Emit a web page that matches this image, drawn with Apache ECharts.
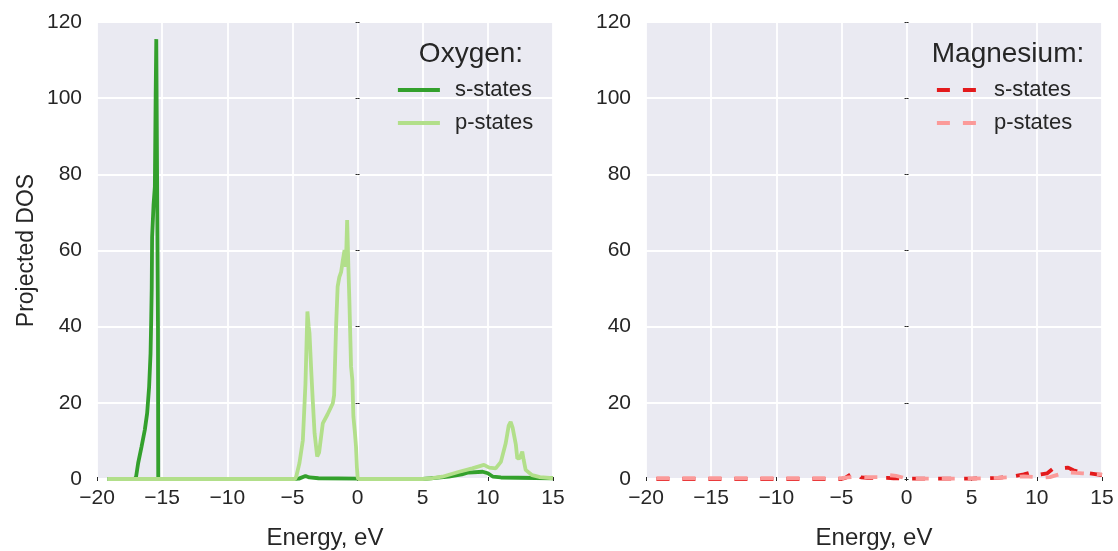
<!DOCTYPE html>
<html><head><meta charset="utf-8">
<script src="https://cdn.jsdelivr.net/npm/echarts@6/dist/echarts.min.js"></script>
<style>html,body{margin:0;padding:0;background:#fff}#c{width:1118px;height:551px}</style>
</head><body><div id="c"></div>
<script>
// Data: [energy (eV), projected DOS]
const oxygenS = [[-19.2,0],[-17.1,0],[-17.0,0.6],[-16.84,4.2],[-16.58,8.5],[-16.33,12.9],[-16.15,17.3],[-16.0,24.2],[-15.89,33],[-15.84,41.7],[-15.8,50],[-15.77,63.6],[-15.72,64],[-15.66,72],[-15.56,76.7],[-15.5,100],[-15.45,115.5],[-15.36,115],[-15.32,40],[-15.3,0],[-15.2,0],[-5,0],[-4.5,0.1],[-4.0,0.8],[-3.7,0.4],[-3,0.2],[0,0.1],[0.1,0],[5,0],[6,0.3],[7,0.6],[8,1.2],[8.5,1.7],[9.6,1.9],[10,1.5],[10.4,0.6],[11,0.4],[15,0.2]];
const oxygenP = [[-19.2,0],[-4.8,0],[-4.71,0.6],[-4.46,4.2],[-4.2,10.2],[-4.0,25],[-3.85,44],[-3.75,40],[-3.69,38.3],[-3.55,28],[-3.44,20.7],[-3.3,12],[-3.1,5.9],[-2.95,7],[-2.67,14.6],[-2.3,17],[-1.9,19.9],[-1.8,22],[-1.65,40],[-1.53,50.5],[-1.4,53],[-1.26,54.4],[-1.15,57],[-1.0,60.1],[-0.9,55.7],[-0.8,68],[-0.7,55],[-0.63,47],[-0.5,29.5],[-0.4,26],[-0.32,16.4],[-0.2,12],[-0.12,8.5],[-0.05,3],[0,0.6],[0.05,0],[5,0],[5.75,0.2],[6.5,0.6],[7.8,1.9],[8.8,2.8],[9.7,3.7],[10.1,3],[10.6,2.8],[11.0,4.5],[11.37,9.4],[11.6,14],[11.75,15],[11.9,13.5],[12.0,13.7],[12.15,9],[12.26,5.4],[12.45,5.5],[12.64,7.2],[12.75,5],[12.9,2.4],[13.4,1.0],[14,0.5],[15,0.2]];
const magnesiumS = [[-19.2,0],[-5,0],[-4.7,0.3],[-4.3,1.2],[-4.0,1.9],[-3.8,1.5],[-3.5,0.4],[-3,0.3],[-2,0.3],[-1.5,0.3],[-1,0.2],[0,0.1],[5,0.1],[7,0.3],[8,0.6],[9,1.2],[9.8,2.0],[10.3,1.2],[10.8,1.5],[11.2,2.6],[11.6,3.0],[12.0,2.9],[12.4,3.0],[12.8,2.3],[13.3,1.8],[14,1.5],[15,1.0]];
const magnesiumP = [[-19.2,0.2],[-5,0.2],[-4.5,0.4],[-4,0.6],[-3,0.5],[-2,0.5],[-1.3,1.0],[-0.8,0.8],[-0.3,0.4],[0,0.1],[5,0.1],[7,0.3],[8,0.5],[9,0.7],[10,0.5],[10.5,0.4],[11,0.5],[11.5,1.0],[12.3,1.8],[13,1.6],[13.5,1.5],[14.5,1.3],[15,1.2]];
const seriesNames = ['s-states','p-states'];
const panelTitles = ['Oxygen:','Magnesium:'];
const xLabel = 'Energy, eV';
const yLabel = 'Projected DOS';

const FONT = '"Liberation Sans", Arial, sans-serif';
const TXT = '#262626';
const grids = [
  {left:97, top:22, width:456, height:457},
  {left:646, top:22, width:456, height:457}
];
function xAx(g, pos, main){
  return {type:'value', gridIndex:g, position:pos, min:-20, max:15, interval:5,
    axisLine:{show:false}, axisTick:{show:true, length:2, lineStyle:{color:TXT,width:1}},
    axisLabel:{show:main, color:TXT, fontSize:21, fontFamily:FONT, margin:9,
      formatter:v=>String(v).replace('-','\u2212')},
    splitLine:{show:main, lineStyle:{color:'#fff', width:1.8}},
    name: main ? xLabel : '', nameLocation:'middle', nameGap:47,
    nameTextStyle:{color:TXT, fontSize:24, fontFamily:FONT}};
}
function yAx(g, pos, main, named){
  return {type:'value', gridIndex:g, position:pos, min:0, max:120, interval:20,
    axisLine:{show:false}, axisTick:{show:true, length:2, lineStyle:{color:TXT,width:1}},
    axisLabel:{show:main, color:TXT, fontSize:21, fontFamily:FONT, margin:15},
    splitLine:{show:main, lineStyle:{color:'#fff', width:1.8}},
    name: named ? yLabel : '', nameLocation:'middle', nameGap:59,
    nameTextStyle:{color:TXT, fontSize:23, fontFamily:FONT}};
}
const chart = echarts.init(document.getElementById('c'));
const lw = 3.8;
const dash = [13,13];
const legendCommon = {orient:'vertical', itemGap:11, itemWidth:42, itemHeight:22,
  itemStyle:{opacity:0},
  textStyle:{color:TXT, fontSize:22, fontFamily:FONT, padding:[0,0,0,10]}};
chart.setOption({
  animation:false,
  backgroundColor:'#fff',
  grid: grids.map(g=>Object.assign({show:true, backgroundColor:'#EAEAF2', borderWidth:0, containLabel:false, outerBoundsMode:'none'}, g)),
  xAxis:[xAx(0,'bottom',true), xAx(1,'bottom',true), xAx(0,'top',false), xAx(1,'top',false)],
  yAxis:[yAx(0,'left',true,true), yAx(1,'left',true,false), yAx(0,'right',false,false), yAx(1,'right',false,false)],
  title:[
    {text:panelTitles[0], left:466, top:35, textAlign:'center', textStyle:{color:TXT, fontSize:28, fontWeight:'normal', fontFamily:FONT}},
    {text:panelTitles[1], left:1003, top:35, textAlign:'center', textStyle:{color:TXT, fontSize:28, fontWeight:'normal', fontFamily:FONT}}
  ],
  legend:[
    Object.assign({left:391, top:74, data:[
        {name:'O s-states', lineStyle:{width:lw}},
        {name:'O p-states', lineStyle:{width:lw}}],
      formatter:n=>n.replace('O ','')}, legendCommon),
    Object.assign({left:930, top:74, data:[
        {name:'Mg s-states', lineStyle:{width:lw, type:dash}},
        {name:'Mg p-states', lineStyle:{width:lw, type:dash}}],
      formatter:n=>n.replace('Mg ','')}, legendCommon)
  ],
  series:[
    {name:'O '+seriesNames[0], type:'line', xAxisIndex:0, yAxisIndex:0, data:oxygenS, symbol:'circle', showSymbol:false, color:'#33a02c', lineStyle:{width:lw, color:'#33a02c'}},
    {name:'O '+seriesNames[1], type:'line', xAxisIndex:0, yAxisIndex:0, data:oxygenP, symbol:'circle', showSymbol:false, color:'#b2df8a', lineStyle:{width:lw, color:'#b2df8a'}},
    {name:'Mg '+seriesNames[0], type:'line', xAxisIndex:1, yAxisIndex:1, data:magnesiumS, symbol:'circle', showSymbol:false, color:'#e31a1c', lineStyle:{width:lw, color:'#e31a1c', type:dash}},
    {name:'Mg '+seriesNames[1], type:'line', xAxisIndex:1, yAxisIndex:1, data:magnesiumP, symbol:'circle', showSymbol:false, color:'#fb9a99', lineStyle:{width:lw, color:'#fb9a99', type:dash}}
  ]
});
</script></body></html>
